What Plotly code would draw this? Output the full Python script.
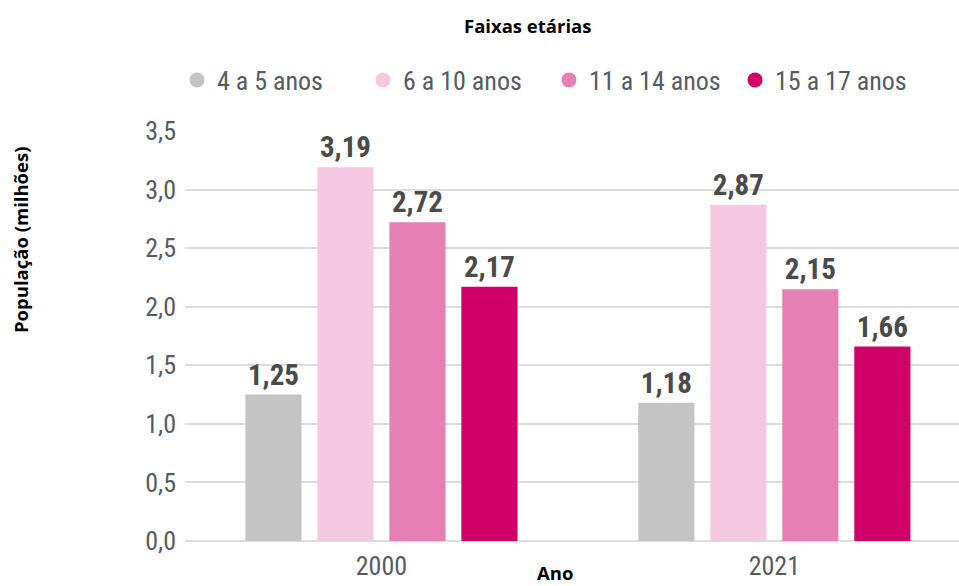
import plotly.graph_objects as go

anos = ["2000", "2021"]
faixas = ["4 a 5 anos", "6 a 10 anos", "11 a 14 anos", "15 a 17 anos"]
valores = {
    "4 a 5 anos": [1.25, 1.18],
    "6 a 10 anos": [3.19, 2.87],
    "11 a 14 anos": [2.72, 2.15],
    "15 a 17 anos": [2.17, 1.66],
}
cores = ["#c4c4c4", "#f5c8e1", "#e680b4", "#cf0068"]
yticks = [0, 0.5, 1.0, 1.5, 2.0, 2.5, 3.0, 3.5]

COND = "Liberation Sans Narrow, Roboto Condensed, Roboto, sans-serif"
BOLD = "Open Sans, Liberation Sans, sans-serif"

fig = go.Figure()
for f, c in zip(faixas, cores):
    fig.add_trace(go.Bar(
        x=anos, y=valores[f], name=f, marker=dict(color=c, line=dict(width=0)),
        texttemplate="%{y:.2f}", textposition="outside",
        textfont=dict(family=COND, size=29, color="#4a4a4a", weight="bold"),
        cliponaxis=False, showlegend=False,
    ))
for f, c in zip(faixas, cores):
    fig.add_trace(go.Scatter(
        x=[None], y=[None], mode="markers", name=f,
        marker=dict(color=c, size=15, symbol="circle"), showlegend=True,
    ))

fig.update_layout(
    width=959, height=586,
    margin=dict(l=185, r=0, t=131, b=45),
    paper_bgcolor="white", plot_bgcolor="white",
    separators=",.",
    barmode="group", bargap=0.267, bargroupgap=0.22,
    legend=dict(
        orientation="h", xref="container", yref="container",
        x=177 / 959, y=1 - 80 / 586, xanchor="left", yanchor="middle",
        font=dict(family=COND, size=26, color="#555b63"),
        entrywidth=141, entrywidthmode="pixels", itemsizing="trace",
        traceorder="normal",
    ),
    xaxis=dict(
        type="category", range=[-0.5, 1.47], showgrid=False, showline=False,
        ticks="", ticklabelstandoff=7,
        tickfont=dict(family=COND, size=26, color="#555b63"),
    ),
    yaxis=dict(
        range=[0, 3.5], tickvals=yticks, tickformat=".1f",
        showgrid=True, gridcolor="#dddddd", gridwidth=1.5,
        zeroline=True, zerolinecolor="#dddddd", zerolinewidth=1.5,
        showline=False, ticks="", ticklabelstandoff=8,
        tickfont=dict(family=COND, size=26, color="#555b63"),
    ),
    annotations=[
        dict(text="<b>Faixas etárias</b>", xref="paper", yref="paper",
             x=(527 - 185) / 774, y=1 + (131 - 25) / 410, showarrow=False,
             xanchor="center", yanchor="middle",
             font=dict(family=BOLD, size=18.5, color="black")),
        dict(text="<b>Ano</b>", xref="paper", yref="paper",
             x=(555 - 185) / 774, y=-(587 - 541) / 410, showarrow=False,
             xanchor="center", yanchor="bottom",
             font=dict(family=BOLD, size=18.5, color="black")),
        dict(text="<b>População (milhões)</b>", xref="paper", yref="paper",
             x=-(185 - 20) / 774, y=(541 - 240) / 410, showarrow=False,
             xanchor="center", yanchor="middle", textangle=-90,
             font=dict(family=BOLD, size=18.5, color="black")),
    ],
)

fig.write_html("out.html", config={"displayModeBar": False},
               post_script="document.body.style.margin='0px';")
